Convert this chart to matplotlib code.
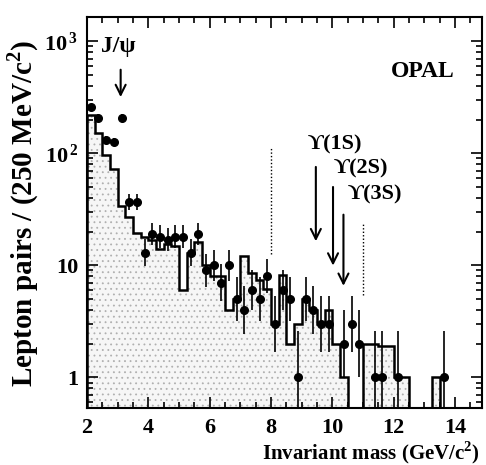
import numpy as np
import matplotlib
matplotlib.use("Agg")
import matplotlib.pyplot as plt
from matplotlib.ticker import FixedLocator, NullFormatter, LogLocator

# ---- data ----
bin_edges = np.arange(2.0, 14.76, 0.25)
hist_vals = [220, 152, 96, 73, 34, 27, 19.5, 18, 17, 14, 15.5, 15,
             6, 13, 16, 10, 8, 8, 4, 5, 12, 8.5, 7.4, 6.2,
             3, 8.2, 2, 3, 5, 4, 3, 4, 2, 1,
             0, 0, 2, 2, 1.9, 1.9, 1, 1, 0, 0, 0, 1, 0, 0, 0, 0, 0]
point_mass = [2.125, 2.375, 2.625, 2.875, 3.125, 3.375, 3.625, 3.875, 4.125,
              4.375, 4.625, 4.875, 5.125, 5.375, 5.625, 5.875, 6.125, 6.375,
              6.625, 6.875, 7.125, 7.375, 7.625, 7.875, 8.125, 8.375, 8.625,
              8.875, 9.125, 9.375, 9.625, 9.875, 10.375, 10.625, 10.875,
              11.375, 11.625, 12.125, 13.625]
point_counts = [260, 208, 132, 126, 208, 37, 37, 13, 19, 18, 17, 18, 18, 13,
                19, 9, 10, 7, 10, 5, 4, 6, 5, 8, 3, 6, 5, 1, 5, 4, 3, 3, 2,
                3, 2, 1, 1, 1, 1]
upsilon_mass = [9.46, 10.02, 10.36]
upsilon_labels = ["ϒ(1S)", "ϒ(2S)", "ϒ(3S)"]
jpsi_mass = 3.097
cut_lines = [8.0, 11.0]

serif = ['Liberation Serif', 'DejaVu Serif']
plt.rcParams['font.family'] = serif
plt.rcParams['mathtext.fontset'] = 'custom'
plt.rcParams['mathtext.rm'] = 'Liberation Serif'
plt.rcParams['mathtext.bf'] = 'Liberation Serif:bold'
plt.rcParams['hatch.color'] = '#9a9a9a'
plt.rcParams['hatch.linewidth'] = 0.6

fig = plt.figure(figsize=(4.86, 4.65), dpi=100)
ax = fig.add_axes([0.179, 0.122, 0.813, 0.841])

hv = np.array(hist_vals, dtype=float)
hv_plot = np.where(hv > 0, hv, 1e-3)
ax.stairs(hv_plot, bin_edges, fill=True, facecolor='#f6f6f6',
          edgecolor='#b0b0b0', hatch='...', linewidth=0)
ax.stairs(hv_plot, bin_edges, fill=False, edgecolor='black', linewidth=1.8)

pc = np.array(point_counts, dtype=float)
up = pc + 0.5 + np.sqrt(pc + 0.25) - pc
lo = pc - (pc + 0.5 - np.sqrt(pc + 0.25))
ax.errorbar(point_mass, pc, yerr=[lo, up], fmt='o', color='black',
            markersize=5.5, elinewidth=1.2, capsize=0)

ax.set_yscale('log')
ax.set_xlim(2.0, 14.88)
ax.set_ylim(0.53, 1640)

# dotted cut lines
ax.plot([cut_lines[0]] * 2, [12.5, 112], color='black', linestyle=(0, (1, 1.5)), linewidth=1.0)
ax.plot([cut_lines[1]] * 2, [5.4, 24], color='black', linestyle=(0, (1, 1.5)), linewidth=1.0)

# arrows
arrow_kw = dict(arrowstyle='->', color='black', lw=1.5, mutation_scale=18)
ax.annotate('', xy=(jpsi_mass, 300), xytext=(jpsi_mass, 590), arrowprops=arrow_kw)
ax.text(3.02, 900, 'J/ψ', ha='center', va='center', fontsize=17, fontweight='bold')
ups_tip = [15.5, 9.4, 6.2]
ups_tail = [80, 53, 30]
ups_text_x = [9.21, 10.03, 10.49]
ups_text_y = [98, 60, 35]
for m, lab, tip, tail, tx, ty in zip(upsilon_mass, upsilon_labels, ups_tip,
                                     ups_tail, ups_text_x, ups_text_y):
    ax.annotate('', xy=(m, tip), xytext=(m, tail), arrowprops=arrow_kw)
    ax.text(tx, ty, lab, ha='left', va='bottom', fontsize=16, fontweight='bold')

ax.text(12.96, 540, 'OPAL', ha='center', va='center', fontsize=17, fontweight='bold')

# ticks
ax.xaxis.set_major_locator(FixedLocator([2, 4, 6, 8, 10, 12, 14]))
ax.xaxis.set_minor_locator(FixedLocator(np.arange(2, 15, 0.5)))
ax.yaxis.set_minor_locator(LogLocator(base=10, subs=np.arange(2, 10), numticks=20))
ax.yaxis.set_minor_formatter(NullFormatter())
ax.set_yticks([1, 10, 100, 1000])
ax.set_yticklabels(['1', '10', r'$\mathbf{10^{\,2}}$', r'$\mathbf{10^{\,3}}$'])
ax.tick_params(which='both', direction='in', top=True, right=True, width=1.2)
ax.tick_params(which='major', length=8, labelsize=16, pad=6)
ax.tick_params(axis='x', which='major', pad=7)
ax.tick_params(which='minor', length=4)
for lab in ax.get_xticklabels() + ax.get_yticklabels():
    lab.set_fontweight('bold')
for s in ax.spines.values():
    s.set_linewidth(1.5)

ax.set_xlabel('Invariant mass (GeV/c$^{\\mathbf{2}}$)', fontsize=15, fontweight='bold',
              loc='right')
ax.xaxis.set_label_coords(0.994, -0.08)
ax.set_ylabel('Lepton pairs / (250 MeV/c$^{\\mathbf{2}}$)', fontsize=21, fontweight='bold')
ax.yaxis.set_label_coords(-0.116, 0.498)

fig.savefig('out.png', dpi=100)
